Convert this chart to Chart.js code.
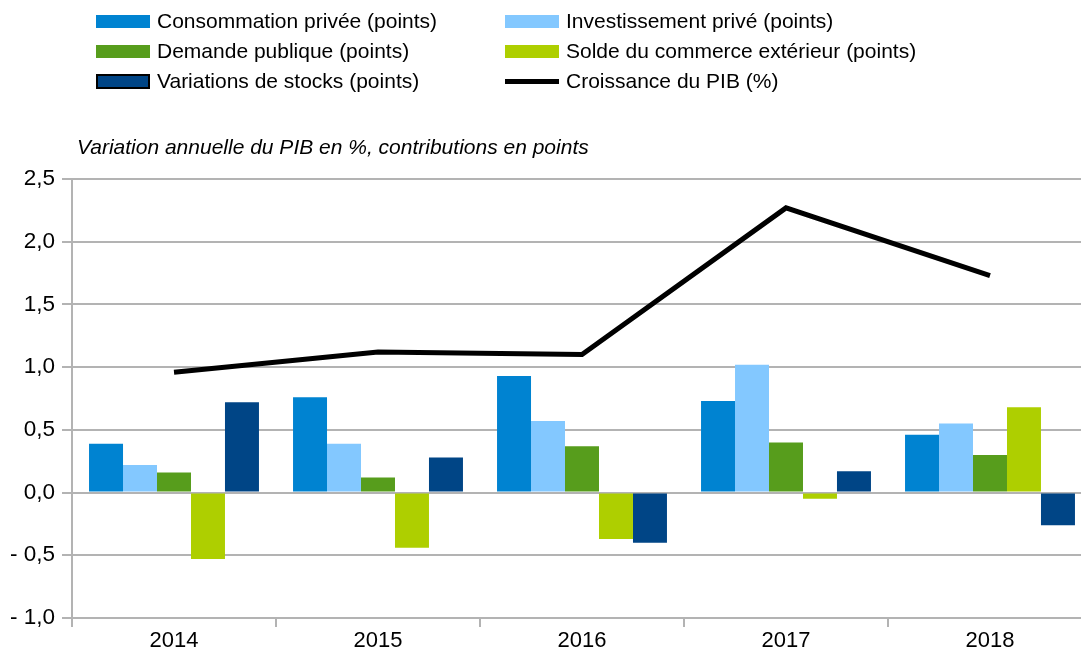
<!DOCTYPE html>
<html>
<head>
<meta charset="utf-8">
<script src="https://cdn.jsdelivr.net/npm/chart.js@4/dist/chart.umd.min.js"></script>
<style>
    body { margin: 0; overflow: hidden; background: #fff; font-family: "Liberation Sans", Arial, sans-serif; }
    #wrap { position: relative; width: 1081px; height: 648px; overflow: hidden; }
    #chart { position: absolute; left: 0; top: 0; }
    .leg { position: absolute; display: flex; align-items: center; font-size: 21px; color: #000; white-space: nowrap; }
    .leg .box { width: 54px; height: 13px; margin-right: 7px; box-sizing: border-box; }
    .leg .ln { width: 54px; height: 5px; margin-right: 7px; background: #000; }
    #subtitle { position: absolute; left: 77px; top: 135px; font-size: 21px; font-style: italic; color: #000; }
</style>
</head>
<body>
<div id="wrap">
    <canvas id="chart" width="1100" height="648"></canvas>
    <div id="legend"></div>
    <div id="subtitle">Variation annuelle du PIB en %, contributions en points</div>
</div>
<script>
    const years = ['2014', '2015', '2016', '2017', '2018'];
    const consommation = [0.39, 0.76, 0.93, 0.73, 0.46];
    const investissement = [0.22, 0.39, 0.57, 1.02, 0.55];
    const demandePublique = [0.16, 0.12, 0.37, 0.40, 0.30];
    const soldeExterieur = [-0.53, -0.44, -0.37, -0.05, 0.68];
    const stocks = [0.72, 0.28, -0.40, 0.17, -0.26];
    const croissancePib = [0.96, 1.12, 1.10, 2.27, 1.73];

    const gridColor = '#b3b3b3';

    function frNumber(v) {
        const s = Math.abs(v).toFixed(1).replace('.', ',');
        return v < 0 ? '- ' + s : s;
    }

    let ctx = document.getElementById('chart');
    let pibChart = new Chart(ctx, {
        type: 'bar',
        data: {
            labels: years,
            datasets: [
                { label: 'Consommation privée (points)', data: consommation, backgroundColor: '#0083d1', order: 1 },
                { label: 'Investissement privé (points)', data: investissement, backgroundColor: '#83c8ff', order: 1 },
                { label: 'Demande publique (points)', data: demandePublique, backgroundColor: '#579d1c', order: 1 },
                { label: 'Solde du commerce extérieur (points)', data: soldeExterieur, backgroundColor: '#aecf00', order: 1 },
                { label: 'Variations de stocks (points)', data: stocks, backgroundColor: '#004586', order: 1 },
                {
                    type: 'line',
                    label: 'Croissance du PIB (%)',
                    data: croissancePib,
                    borderColor: '#000',
                    borderWidth: 5,
                    pointRadius: 0,
                    tension: 0,
                    fill: false,
                    order: 0
                }
            ]
        },
        options: {
            responsive: false,
            animation: false,
            devicePixelRatio: 1,
            layout: { padding: { top: 179, right: 8, left: 0, bottom: 0 } },
            datasets: {
                bar: { categoryPercentage: 0.833, barPercentage: 1.0 }
            },
            plugins: {
                legend: { display: false },
                tooltip: { enabled: false }
            },
            scales: {
                x: {
                    afterFit: function (scale) { scale.height = 30; },
                    grid: {
                        offset: true,
                        drawOnChartArea: false,
                        drawTicks: true,
                        tickLength: 9,
                        color: gridColor,
                        lineWidth: 2
                    },
                    border: { display: true, color: gridColor, width: 2 },
                    ticks: {
                        color: '#000',
                        padding: 1,
                        font: { family: '"Liberation Sans", Arial, sans-serif', size: 22 }
                    }
                },
                y: {
                    min: -1,
                    max: 2.5,
                    afterFit: function (scale) { scale.width = 72; },
                    grid: {
                        color: gridColor,
                        lineWidth: 2,
                        drawTicks: true,
                        tickLength: 10
                    },
                    border: { display: true, color: gridColor, width: 2 },
                    ticks: {
                        stepSize: 0.5,
                        color: '#000',
                        padding: 7,
                        font: { family: '"Liberation Sans", Arial, sans-serif', size: 22.5 },
                        callback: function (value) { return frNumber(value); }
                    }
                }
            }
        }
    });

    // legend in two columns, built from the datasets
    const legendPos = [[96, 21], [505, 21], [96, 51], [505, 51], [96, 81], [505, 81]];
    const legendEl = document.getElementById('legend');
    pibChart.data.datasets.forEach(function (ds, i) {
        const item = document.createElement('div');
        item.className = 'leg';
        item.style.left = legendPos[i][0] + 'px';
        item.style.top = (legendPos[i][1] - 13) + 'px';
        item.style.height = '26px';
        const mark = document.createElement('span');
        if (ds.type === 'line') {
            mark.className = 'ln';
        } else {
            mark.className = 'box';
            mark.style.background = ds.backgroundColor;
            if (i === 4) { mark.style.border = '2px solid #000'; mark.style.height = '15px'; }
        }
        const txt = document.createElement('span');
        txt.textContent = ds.label;
        item.appendChild(mark);
        item.appendChild(txt);
        legendEl.appendChild(item);
    });
</script>
</body>
</html>
